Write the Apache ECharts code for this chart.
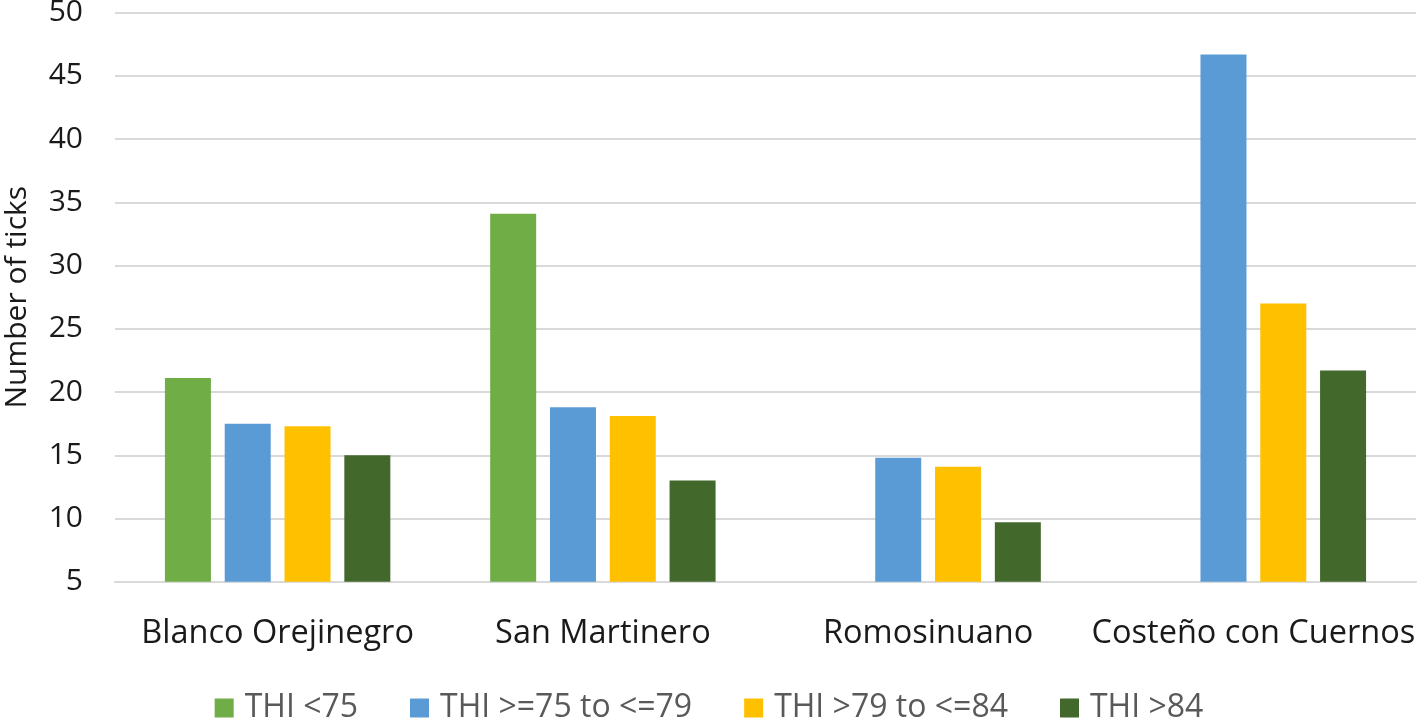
<!DOCTYPE html>
<html>
<head>
<meta charset="utf-8">
<script src="https://cdn.jsdelivr.net/npm/echarts@6/dist/echarts.min.js"></script>
<style>
html,body{margin:0;padding:0;background:#fff;}
#chart{width:1418px;height:720px;}
</style>
</head>
<body>
<div id="chart"></div>
<script>
var categories = ['Blanco Orejinegro', 'San Martinero', 'Romosinuano', 'Costeño con Cuernos'];
var seriesNames = ['THI <75', 'THI >=75 to <=79', 'THI >79 to <=84', 'THI >84'];
var thiBelow75 = [21.1, 34.1, null, null];
var thi75to79 = [17.5, 18.8, 14.8, 46.7];
var thi79to84 = [17.3, 18.1, 14.1, 27.0];
var thiAbove84 = [15.0, 13.0, 9.7, 21.7];
var yTicks = { min: 5, max: 50, interval: 5 };
var colors = ['#70AD47', '#5B9BD5', '#FFC000', '#43682B'];

var seriesData = [thiBelow75, thi75to79, thi79to84, thiAbove84];
var font = 'Open Sans';

var chart = echarts.init(document.getElementById('chart'), null, { renderer: 'canvas' });
chart.setOption({
  animation: false,
  backgroundColor: '#ffffff',
  textStyle: { fontFamily: font },
  grid: { left: 115, right: 2, top: 12.7, bottom: 138.3, containLabel: false, outerBoundsMode: 'none' },
  legend: {
    data: seriesNames,
    left: 'center',
    top: 687,
    itemWidth: 19,
    itemHeight: 19,
    itemGap: 52,
    icon: 'rect',
    textStyle: { fontFamily: font, fontSize: 32, color: '#595959', padding: [0, 0, 0, 6] }
  },
  xAxis: {
    type: 'category',
    data: categories,
    axisLine: { show: true, lineStyle: { color: '#d9d9d9', width: 2 } },
    axisTick: { show: false },
    axisLabel: { color: '#1a1a1a', fontFamily: font, fontSize: 32.5, margin: 36, interval: 0 }
  },
  yAxis: {
    type: 'value',
    min: yTicks.min,
    max: yTicks.max,
    interval: yTicks.interval,
    name: 'Number of ticks',
    nameLocation: 'middle',
    nameGap: 83,
    nameRotate: 90,
    nameTextStyle: { color: '#1a1a1a', fontFamily: font, fontSize: 30 },
    axisLine: { show: false },
    axisTick: { show: false },
    splitLine: { show: true, lineStyle: { color: '#d9d9d9', width: 2 } },
    axisLabel: { color: '#1a1a1a', fontFamily: font, fontSize: 30, margin: 32 }
  },
  series: seriesNames.map(function (name, i) {
    return {
      name: name,
      type: 'bar',
      data: seriesData[i],
      barWidth: 46,
      barGap: '30%',
      itemStyle: { color: colors[i] }
    };
  })
});
</script>
</body>
</html>
